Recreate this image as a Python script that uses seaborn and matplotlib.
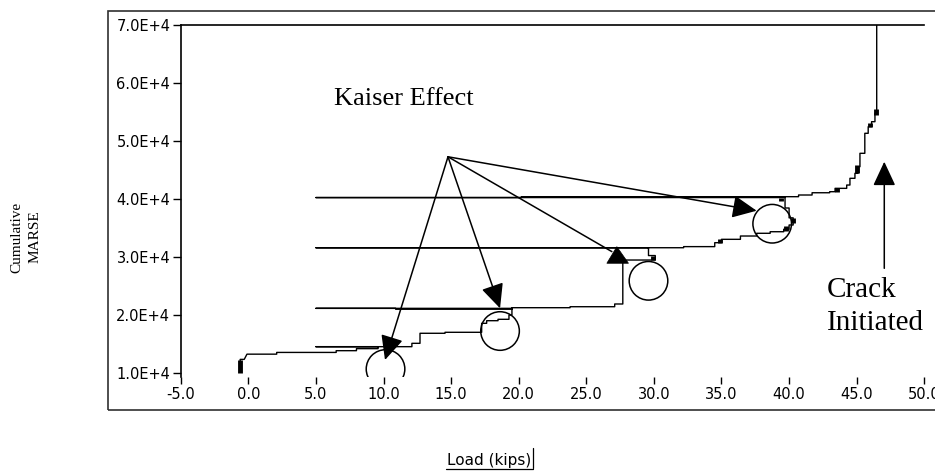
import matplotlib
matplotlib.use("Agg")
import matplotlib.pyplot as plt
import seaborn as sns
import pandas as pd
from matplotlib.patches import Rectangle, Ellipse, Polygon
from matplotlib.lines import Line2D
from matplotlib.ticker import FuncFormatter

# ---------------- data ----------------
# cumulative MARSE path vs load (loading / unloading cycles)
load = [-0.6, -0.6, -0.3, -0.1, 2.1, 2.1, 6.5, 6.5, 8.0, 8.0, 9.6, 9.6, 5.0,
        12.1, 12.1, 12.7, 12.7, 14.55, 14.55, 17.26, 17.26, 17.63, 17.63,
        18.47, 18.47, 19.28, 19.28, 19.5, 19.5, 5.0, 5.0, 10.9, 10.9, 19.5,
        19.5, 23.8, 23.8, 27.1, 27.1, 27.7, 27.7, 30.1, 30.1, 29.6, 29.6, 5.0,
        32.2, 32.2, 34.5, 34.5, 35.0, 35.0, 36.4, 36.4, 37.6, 37.6, 38.6, 38.6,
        39.6, 39.6, 40.0, 40.0, 40.3, 40.3, 40.0, 40.0, 39.7, 39.7, 5.0, 5.0,
        20.2, 20.2, 40.7, 40.7, 41.7, 41.7, 43.0, 43.0, 43.4, 43.4, 44.26,
        44.26, 44.5, 44.5, 44.87, 44.87, 45.1, 45.1, 45.24, 45.24, 45.6, 45.6,
        45.85, 45.85, 46.1, 46.1, 46.35, 46.35, 46.48, 46.48]
marse = [10200, 12400, 12400, 13300, 13300, 13600, 13600, 13900, 13900, 14250,
         14250, 14590, 14590,
         14590, 15170, 15170, 16900, 16900, 17070, 17070, 18620, 18620, 19070,
         19070, 19310, 19310, 20050, 20050, 21200, 21200, 21200, 21200, 21050,
         21050,
         21310, 21310, 21480, 21480, 21950, 21950, 29530, 29530, 30300, 30300,
         31650, 31650,
         31650, 31840, 31840, 32520, 32520, 33100, 33100, 33670, 33670, 34140,
         34140, 34410, 34410, 34830, 34830, 35570, 35570, 36800, 36800, 38500,
         38500, 40300, 40300, 40300,
         40300, 40450, 40450, 40740, 40740, 41130, 41130, 41310, 41310, 41890,
         41890, 42460, 42460, 43620, 43620, 44480, 44480, 45620, 45620, 47930,
         47930, 51380, 51380, 52510, 52510, 53380, 53380, 54820, 54820, 70000]

# dense clusters of hits (drawn as short thick bars)
block_load = [-0.6, 29.95, 34.9, 39.4, 40.3, 39.8, 43.55, 45.05, 46.0, 46.45]
block_lo = [10100, 29530, 32520, 39700, 35900, 34600, 41300, 44600, 52500, 54600]
block_hi = [12300, 30300, 33200, 40300, 36800, 35400, 41900, 45900, 53200, 55500]

x_ticks = [-5, 0, 5, 10, 15, 20, 25, 30, 35, 40, 45, 50]
y_ticks = [10000, 20000, 30000, 40000, 50000, 60000, 70000]

# annotation anchors (load, MARSE)
kaiser_text_pos = (11.48, 56250)
kaiser_origin = (14.77, 47330)
kaiser_tips = [(10.11, 12300), (18.62, 21210), (37.6, 38030)]
kaiser_line3_end = (26.89, 30980)
kaiser_tri3 = [(27.26, 31830), (26.52, 28970), (28.12, 28970)]
circle_load = [10.15, 18.62, 29.6, 38.75]
circle_marse = [10740, 17290, 25950, 35790]
crack_from = (47.04, 28100)
crack_to = (47.04, 46480)

# ---------------- figure ----------------
sns.set_theme(style="white")
plt.rcParams["font.family"] = ["DejaVu Sans"]
plt.rcParams["axes.unicode_minus"] = False

W, H = 935, 471
fig = plt.figure(figsize=(W / 100, H / 100), dpi=100)
fig.patch.set_facecolor("white")


def fx(px):
    return px / W


def fy(py):
    return 1 - py / H


ax = fig.add_axes([fx(180.7), fy(376.7), fx(924.3) - fx(180.7), fy(25.3) - fy(376.7)])
ax.set_facecolor("white")

df = pd.DataFrame({"load": load, "marse": marse})
sns.lineplot(data=df, x="load", y="marse", sort=False, estimator=None,
             color="black", lw=1.0, ax=ax)
ax.vlines(block_load, block_lo, block_hi, colors="black", lw=3.5)

ax.set_xlim(-5, 50)
ax.set_ylim(9414, 70000)
ax.set_xticks(x_ticks)
ax.set_yticks(y_ticks)
ax.xaxis.set_major_formatter(FuncFormatter(lambda v, p: f"{v:.1f}"))
ax.yaxis.set_major_formatter(FuncFormatter(lambda v, p: f"{v/10000:.1f}E+4"))
ax.tick_params(axis="x", direction="out", length=4.8, width=1.0, pad=2.5,
               labelsize=10.5, colors="black", bottom=True)
ax.tick_params(axis="y", direction="out", length=6, width=1.0, pad=1.5,
               labelsize=10.5, colors="black", left=True)
ax.set_xlabel("")
ax.set_ylabel("")
for s in ["bottom", "right"]:
    ax.spines[s].set_visible(False)
for s in ["left", "top"]:
    ax.spines[s].set_visible(True)
    ax.spines[s].set_color("black")
    ax.spines[s].set_linewidth(1.2)

# circles
for cx, cy in zip(circle_load, circle_marse):
    ax.add_patch(Ellipse((cx, cy), width=2 * 19.3 / 13.52, height=2 * 19.3 * 172.4,
                         fill=False, ec="black", lw=1.1, zorder=5))

# arrows
astyle = "-|>,head_length=0.75,head_width=0.35"
for tip in kaiser_tips:
    ax.annotate("", xy=tip, xytext=kaiser_origin,
                arrowprops=dict(arrowstyle=astyle, mutation_scale=20, lw=1.1,
                                color="black", shrinkA=0, shrinkB=0))
ax.annotate("", xy=kaiser_line3_end, xytext=kaiser_origin,
            arrowprops=dict(arrowstyle="-", lw=1.1, color="black", shrinkA=0, shrinkB=0))
ax.add_patch(Polygon(kaiser_tri3, closed=True, fc="black", ec="black", lw=0.5, zorder=5))
ax.annotate("", xy=crack_to, xytext=crack_from,
            arrowprops=dict(arrowstyle=astyle, mutation_scale=20, lw=1.1,
                            color="black", shrinkA=0, shrinkB=0))

serif = ["Liberation Serif", "DejaVu Serif"]
ax.text(kaiser_text_pos[0], kaiser_text_pos[1], "Kaiser Effect", fontsize=19,
        family=serif, ha="center", va="baseline", color="black")
ax.text(42.8, 23160, "Crack", fontsize=21, family=serif,
        ha="left", va="baseline", color="black")
ax.text(42.8, 17480, "Initiated", fontsize=21, family=serif,
        ha="left", va="baseline", color="black")

# axis titles
fig.text(fx(26), fy(237), "Cumulative\nMARSE", rotation=90, family=serif,
         fontsize=11, ha="center", va="center", multialignment="center",
         linespacing=1.45, color="black")
fig.text(fx(489.5), fy(465), "Load (kips)", fontsize=11, ha="center",
         va="baseline", color="black")
fig.add_artist(Line2D([fx(446), fx(533)], [fy(469), fy(469)], color="black",
                      lw=0.9, transform=fig.transFigure))
fig.add_artist(Line2D([fx(532.5), fx(532.5)], [fy(448), fy(468)], color="black",
                      lw=0.9, transform=fig.transFigure))

# outer frame
fig.add_artist(Rectangle((fx(108), fy(410)), fx(945) - fx(108), fy(11) - fy(410),
                         transform=fig.transFigure, fill=False, ec="#303030",
                         lw=1.2))

fig.savefig("out.png", dpi=100)
